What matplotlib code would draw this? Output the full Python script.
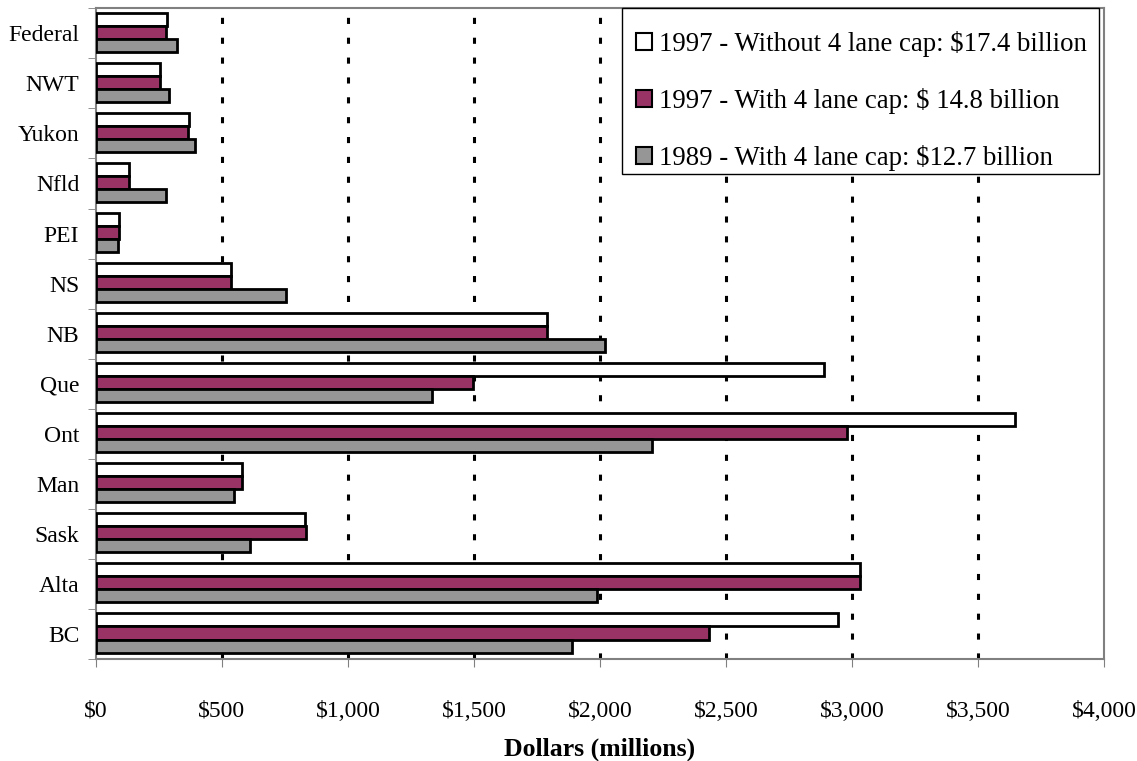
import matplotlib.pyplot as plt
import numpy as np
from matplotlib.patches import Patch, Rectangle

# Road spending by jurisdiction, millions of dollars
regions = ['Federal', 'NWT', 'Yukon', 'Nfld', 'PEI', 'NS', 'NB',
           'Que', 'Ont', 'Man', 'Sask', 'Alta', 'BC']
without_cap_1997 = [280, 255, 369, 132, 90, 536, 1790, 2889, 3647, 578, 831, 3030, 2943]
with_cap_1997 = [278, 254, 366, 133, 90, 536, 1790, 1497, 2979, 580, 833, 3033, 2431]
with_cap_1989 = [320, 291, 394, 279, 87, 753, 2021, 1332, 2205, 549, 611, 1988, 1888]

series_labels = ['1997 - Without 4 lane cap: $17.4 billion',
                 '1997 - With 4 lane cap: $ 14.8 billion',
                 '1989 - With 4 lane cap: $12.7 billion']
series_colors = ['#FFFFFF', '#993366', '#969696']

plt.rcParams['font.family'] = ['Liberation Serif', 'DejaVu Serif']

fig = plt.figure(figsize=(11.37, 7.61), dpi=100)
ax = fig.add_axes([0.0844, 0.134, 0.8866, 0.8551])

y = np.arange(len(regions))
h = 0.26
for i, vals in enumerate([without_cap_1997, with_cap_1997, with_cap_1989]):
    ax.barh(y + (i - 1) * h - 0.02, vals, height=h, color=series_colors[i],
            edgecolor='black', linewidth=2, zorder=3)

ax.set_xlim(0, 4000)
ax.set_ylim(len(regions) - 0.5, -0.5)

# dotted vertical gridlines
for gx in range(500, 4000, 500):
    ax.axvline(gx, color='black', linewidth=2.2, linestyle=(0, (2, 4.5)), zorder=1)
ax.axvline(4000, color='#808080', linewidth=2, linestyle=(0, (2, 2)), zorder=1)

ax.set_xticks(np.arange(0, 4001, 500))
ax.set_xticklabels(['${:,}'.format(v) for v in range(0, 4001, 500)], fontsize=17)
ax.tick_params(axis='x', direction='out', length=6, color='#808080', pad=24)

ax.set_yticks(y)
ax.set_yticklabels(regions, fontsize=17)
ax.tick_params(axis='y', which='major', length=0, pad=12)
ax.set_yticks(np.arange(-0.5, len(regions) + 0.5, 1), minor=True)
ax.tick_params(axis='y', which='minor', direction='out', length=6, color='#808080')

for side in ['left', 'bottom', 'top', 'right']:
    ax.spines[side].set_color('#808080')
    ax.spines[side].set_linewidth(1.5)

ax.set_xlabel('Dollars (millions)', fontsize=18.5, fontweight='bold')
ax.xaxis.set_label_coords(0.5, -0.121)

# legend box drawn separately so the entries can sit lower inside it
ax.add_patch(Rectangle((0.5218, 0.745), 0.4732, 0.255, transform=ax.transAxes,
                       facecolor='white', edgecolor='black', linewidth=1,
                       zorder=4, clip_on=False))
handles = [Patch(facecolor=c, edgecolor='black', linewidth=1.5) for c in series_colors]
leg = ax.legend(handles, series_labels, loc='upper left', bbox_to_anchor=(0.5357, 0.965),
                fontsize=19.3, frameon=False,
                handlelength=0.6, handleheight=0.6, handletextpad=0.25,
                labelspacing=1.15, borderpad=0, borderaxespad=0)
leg.set_zorder(5)

fig.savefig('out.png', dpi=100)
